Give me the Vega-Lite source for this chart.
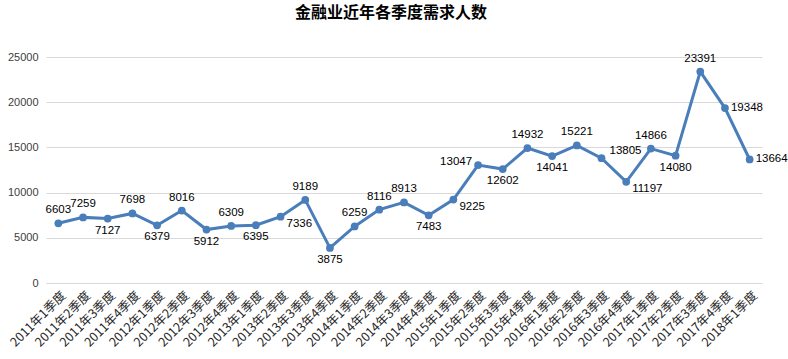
{
  "$schema": "https://vega.github.io/schema/vega-lite/v6.json",
  "width": 716,
  "height": 226,
  "autosize": {"type": "none"},
  "padding": {"left": 46, "top": 57, "right": 26, "bottom": 76},
  "background": "white",
  "title": {"text": "金融业近年各季度需求人数", "font": "Noto Sans CJK SC", "fontSize": 16, "fontWeight": "bold", "color": "#000000", "anchor": "middle", "dx": -13, "offset": 30},
  "config": {"view": {"stroke": null}},
  "data": {"values": [
    {"q": "2011年1季度", "v": 6603},
    {"q": "2011年2季度", "v": 7259},
    {"q": "2011年3季度", "v": 7127},
    {"q": "2011年4季度", "v": 7698},
    {"q": "2012年1季度", "v": 6379},
    {"q": "2012年2季度", "v": 8016},
    {"q": "2012年3季度", "v": 5912},
    {"q": "2012年4季度", "v": 6309},
    {"q": "2013年1季度", "v": 6395},
    {"q": "2013年2季度", "v": 7336},
    {"q": "2013年3季度", "v": 9189},
    {"q": "2013年4季度", "v": 3875},
    {"q": "2014年1季度", "v": 6259},
    {"q": "2014年2季度", "v": 8116},
    {"q": "2014年3季度", "v": 8913},
    {"q": "2014年4季度", "v": 7483},
    {"q": "2015年1季度", "v": 9225},
    {"q": "2015年2季度", "v": 13047},
    {"q": "2015年3季度", "v": 12602},
    {"q": "2015年4季度", "v": 14932},
    {"q": "2016年1季度", "v": 14041},
    {"q": "2016年2季度", "v": 15221},
    {"q": "2016年3季度", "v": 13805},
    {"q": "2016年4季度", "v": 11197},
    {"q": "2017年1季度", "v": 14866},
    {"q": "2017年2季度", "v": 14080},
    {"q": "2017年3季度", "v": 23391},
    {"q": "2017年4季度", "v": 19348},
    {"q": "2018年1季度", "v": 13664}
  ]},
  "encoding": {
    "x": {"field": "q", "type": "ordinal", "sort": null, "scale": {"type": "point", "padding": 0.5},
      "axis": {"title": null, "labelAngle": -45, "labelAlign": "right", "labelBaseline": "middle", "labelFont": "Noto Sans CJK SC", "labelFontSize": 12.5, "labelColor": "#262626", "ticks": false, "domainColor": "#D9D9D9", "labelPadding": 10, "labelOffset": 5, "labelOverlap": false}},
    "y": {"field": "v", "type": "quantitative", "scale": {"domain": [0, 25000]},
      "axis": {"title": null, "values": [0, 5000, 10000, 15000, 20000, 25000], "format": "d", "domain": false, "ticks": false, "gridColor": "#D9D9D9", "labelFont": "Liberation Sans", "labelFontSize": 11, "labelColor": "#404040", "labelPadding": 8}}
  },
  "layer": [
    {"mark": {"type": "line", "color": "#4A7EBB", "strokeWidth": 3}},
    {"mark": {"type": "point", "filled": true, "color": "#4A7EBB", "size": 60, "opacity": 1}},
    {"transform": [{"filter": {"field": "q", "oneOf": ["2011年1季度", "2011年2季度", "2011年4季度", "2012年2季度", "2012年4季度", "2013年3季度", "2014年1季度", "2014年2季度", "2014年3季度", "2015年4季度", "2016年2季度", "2017年1季度", "2017年3季度"]}}],
     "mark": {"type": "text", "dy": -13, "font": "Liberation Sans", "fontSize": 11.5, "color": "#000000"},
     "encoding": {"text": {"field": "v", "type": "quantitative", "format": "d"}}},
    {"transform": [{"filter": {"field": "q", "oneOf": ["2011年3季度", "2012年1季度", "2012年3季度", "2013年1季度", "2013年4季度", "2014年4季度", "2015年3季度", "2016年1季度", "2017年2季度"]}}],
     "mark": {"type": "text", "dy": 12, "font": "Liberation Sans", "fontSize": 11.5, "color": "#000000"},
     "encoding": {"text": {"field": "v", "type": "quantitative", "format": "d"}}},
    {"transform": [{"filter": {"field": "q", "oneOf": ["2015年2季度"]}}],
     "mark": {"type": "text", "dx": -6, "dy": -3, "align": "right", "font": "Liberation Sans", "fontSize": 11.5, "color": "#000000"},
     "encoding": {"text": {"field": "v", "type": "quantitative", "format": "d"}}},
    {"transform": [{"filter": {"field": "q", "oneOf": ["2016年3季度"]}}],
     "mark": {"type": "text", "dx": 8, "dy": -7, "align": "left", "font": "Liberation Sans", "fontSize": 11.5, "color": "#000000"},
     "encoding": {"text": {"field": "v", "type": "quantitative", "format": "d"}}},
    {"transform": [{"filter": {"field": "q", "oneOf": ["2013年2季度", "2015年1季度", "2016年4季度"]}}],
     "mark": {"type": "text", "dx": 6, "dy": 7, "align": "left", "font": "Liberation Sans", "fontSize": 11.5, "color": "#000000"},
     "encoding": {"text": {"field": "v", "type": "quantitative", "format": "d"}}},
    {"transform": [{"filter": {"field": "q", "oneOf": ["2017年4季度", "2018年1季度"]}}],
     "mark": {"type": "text", "dx": 6, "dy": 0, "align": "left", "font": "Liberation Sans", "fontSize": 11.5, "color": "#000000"},
     "encoding": {"text": {"field": "v", "type": "quantitative", "format": "d"}}}
  ]
}
